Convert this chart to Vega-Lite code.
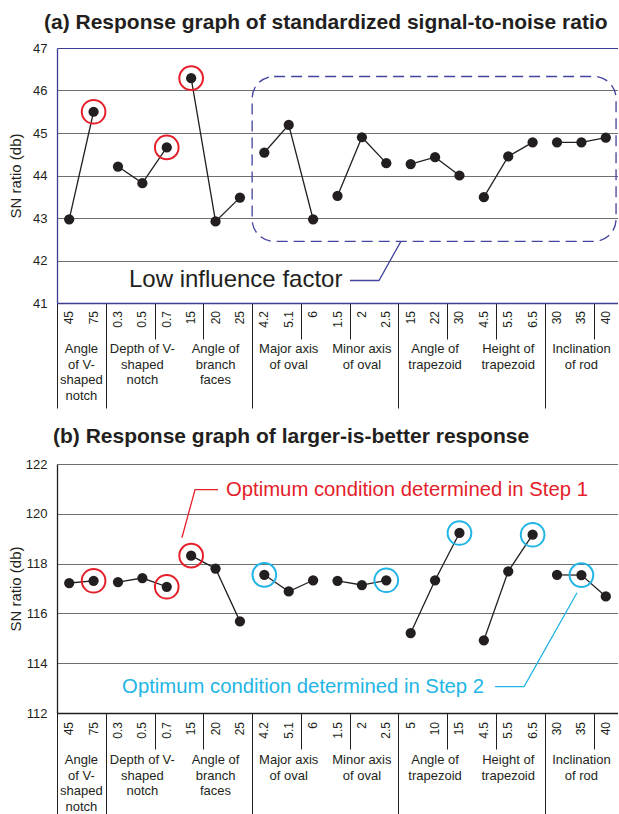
{
  "$schema": "https://vega.github.io/schema/vega-lite/v6.json",
  "padding": {"left": 8, "top": 11, "right": 0, "bottom": 0},
  "bounds": "flush",
  "spacing": 0,
  "config": {"view": {"stroke": null}, "font": "Liberation Sans"},
  "datasets": {
    "levels": [
      {"col": 1, "factor": "Angle\nof V-\nshaped\nnotch", "level_a": "45", "level_b": "45", "a": 42.97, "b": 117.22, "opt_a": false, "step_b": null},
      {"col": 2, "factor": "Angle\nof V-\nshaped\nnotch", "level_a": "75", "level_b": "75", "a": 45.50, "b": 117.31, "opt_a": true, "step_b": "Step 1"},
      {"col": 3, "factor": "Depth of V-\nshaped\nnotch", "level_a": "0.3", "level_b": "0.3", "a": 44.21, "b": 117.26, "opt_a": false, "step_b": null},
      {"col": 4, "factor": "Depth of V-\nshaped\nnotch", "level_a": "0.5", "level_b": "0.5", "a": 43.82, "b": 117.42, "opt_a": false, "step_b": null},
      {"col": 5, "factor": "Depth of V-\nshaped\nnotch", "level_a": "0.7", "level_b": "0.7", "a": 44.66, "b": 117.07, "opt_a": true, "step_b": "Step 1"},
      {"col": 6, "factor": "Angle of\nbranch\nfaces", "level_a": "15", "level_b": "15", "a": 46.29, "b": 118.32, "opt_a": true, "step_b": "Step 1"},
      {"col": 7, "factor": "Angle of\nbranch\nfaces", "level_a": "20", "level_b": "20", "a": 42.92, "b": 117.80, "opt_a": false, "step_b": null},
      {"col": 8, "factor": "Angle of\nbranch\nfaces", "level_a": "25", "level_b": "25", "a": 43.48, "b": 115.68, "opt_a": false, "step_b": null},
      {"col": 9, "factor": "Major axis\nof oval", "level_a": "4.2", "level_b": "4.2", "a": 44.54, "b": 117.55, "opt_a": false, "step_b": "Step 2"},
      {"col": 10, "factor": "Major axis\nof oval", "level_a": "5.1", "level_b": "5.1", "a": 45.19, "b": 116.88, "opt_a": false, "step_b": null},
      {"col": 11, "factor": "Major axis\nof oval", "level_a": "6", "level_b": "6", "a": 42.97, "b": 117.33, "opt_a": false, "step_b": null},
      {"col": 12, "factor": "Minor axis\nof oval", "level_a": "1.5", "level_b": "1.5", "a": 43.52, "b": 117.31, "opt_a": false, "step_b": null},
      {"col": 13, "factor": "Minor axis\nof oval", "level_a": "2", "level_b": "2", "a": 44.90, "b": 117.14, "opt_a": false, "step_b": null},
      {"col": 14, "factor": "Minor axis\nof oval", "level_a": "2.5", "level_b": "2.5", "a": 44.29, "b": 117.33, "opt_a": false, "step_b": "Step 2"},
      {"col": 15, "factor": "Angle of\ntrapezoid", "level_a": "15", "level_b": "5", "a": 44.27, "b": 115.21, "opt_a": false, "step_b": null},
      {"col": 16, "factor": "Angle of\ntrapezoid", "level_a": "22", "level_b": "10", "a": 44.43, "b": 117.33, "opt_a": false, "step_b": null},
      {"col": 17, "factor": "Angle of\ntrapezoid", "level_a": "30", "level_b": "15", "a": 44.00, "b": 119.23, "opt_a": false, "step_b": "Step 2"},
      {"col": 18, "factor": "Height of\ntrapezoid", "level_a": "4.5", "level_b": "4.5", "a": 43.49, "b": 114.92, "opt_a": false, "step_b": null},
      {"col": 19, "factor": "Height of\ntrapezoid", "level_a": "5.5", "level_b": "5.5", "a": 44.45, "b": 117.69, "opt_a": false, "step_b": null},
      {"col": 20, "factor": "Height of\ntrapezoid", "level_a": "6.5", "level_b": "6.5", "a": 44.78, "b": 119.16, "opt_a": false, "step_b": "Step 2"},
      {"col": 21, "factor": "Inclination\nof rod", "level_a": "30", "level_b": "30", "a": 44.78, "b": 117.55, "opt_a": false, "step_b": null},
      {"col": 22, "factor": "Inclination\nof rod", "level_a": "35", "level_b": "35", "a": 44.78, "b": 117.54, "opt_a": false, "step_b": "Step 2"},
      {"col": 23, "factor": "Inclination\nof rod", "level_a": "40", "level_b": "40", "a": 44.89, "b": 116.68, "opt_a": false, "step_b": null}
    ],
    "boxA": [{"x1": 8.5, "x2": 23.42, "y1": 42.45, "y2": 46.33}],
    "noteA": [{"x": 3.45, "y": 41.53, "text": "Low influence factor"}],
    "leadA": [{"x": 12.51, "y": 41.53}, {"x": 13.7, "y": 41.53}, {"x": 14.6, "y": 42.45}],
    "noteB": [
      {"x": 7.43, "y": 120.97, "text": "Optimum condition determined in Step 1", "step": "Step 1"},
      {"x": 3.17, "y": 113.06, "text": "Optimum condition determined in Step 2", "step": "Step 2"}
    ],
    "leadB": [
      {"x": 5.62, "y": 119.04, "step": "Step 1"},
      {"x": 6.16, "y": 120.97, "step": "Step 1"},
      {"x": 7.1, "y": 120.97, "step": "Step 1"},
      {"x": 18.46, "y": 113.06, "step": "Step 2"},
      {"x": 19.65, "y": 113.06, "step": "Step 2"},
      {"x": 21.82, "y": 116.83, "step": "Step 2"}
    ]
  },
  "vconcat": [
    {
      "width": 561,
      "height": 255,
      "title": {"text": "(a) Response graph of standardized signal-to-noise ratio", "anchor": "start", "frame": "group", "dx": -13, "fontSize": 21, "fontWeight": "bold", "baseline": "bottom", "offset": -11.5, "color": "#231f20"},
      "layer": [
        {
          "data": {"name": "boxA"},
          "mark": {"type": "rect", "filled": false, "stroke": "#4343a0", "strokeWidth": 1.3, "strokeDash": [11, 6], "cornerRadius": 22},
          "encoding": {
            "x": {"field": "x1", "type": "quantitative", "title": null},
            "x2": {"field": "x2"},
            "y": {"field": "y1", "type": "quantitative", "title": "SN ratio (db)"},
            "y2": {"field": "y2"}
          }
        },
        {
          "data": {"name": "leadA"},
          "mark": {"type": "line", "color": "#4343a0", "strokeWidth": 1.3},
          "encoding": {
            "x": {"field": "x", "type": "quantitative", "title": null},
            "y": {"field": "y", "type": "quantitative", "title": "SN ratio (db)"}
          }
        },
        {
          "data": {"name": "noteA"},
          "mark": {"type": "text", "align": "left", "baseline": "middle", "fontSize": 24, "color": "#231f20"},
          "encoding": {
            "x": {"field": "x", "type": "quantitative", "title": null},
            "y": {"field": "y", "type": "quantitative", "title": "SN ratio (db)"},
            "text": {"field": "text", "type": "nominal"}
          }
        },
        {
          "data": {"name": "levels"},
          "mark": {"type": "line", "color": "#231f20", "strokeWidth": 1.3},
          "encoding": {
            "x": {"field": "col", "type": "quantitative", "title": null,
              "scale": {"domain": [0.5, 23.5], "nice": false, "zero": false},
              "axis": {"values": [0.5, 1.5, 2.5, 3.5, 4.5, 5.5, 6.5, 7.5, 8.5, 9.5, 10.5, 11.5, 12.5, 13.5, 14.5, 15.5, 16.5, 17.5, 18.5, 19.5, 20.5, 21.5, 22.5, 23.5],
                "labels": false, "grid": false, "ticks": true, "tickColor": "#231f20", "tickWidth": 1,
                "tickSize": {"condition": {"test": "indexof([0.5,2.5,5.5,8.5,11.5,14.5,17.5,20.5,23.5], datum.value) >= 0", "value": 105}, "value": 36},
                "domainColor": "#3d3d92", "domainWidth": 1.3}},
            "y": {"field": "a", "type": "quantitative", "title": "SN ratio (db)",
              "scale": {"domain": [41, 47], "nice": false, "zero": false},
              "axis": {"values": [41, 42, 43, 44, 45, 46, 47], "grid": true,
                "gridColor": {"condition": {"test": "datum.value === 47", "value": "#3d3d92"}, "value": "#6d6e71"},
                "gridWidth": 1.1, "domainColor": "#3d3d92", "domainWidth": 1.3, "ticks": false, "tickSize": 0,
                "labelPadding": 10, "labelFontSize": 13, "labelColor": "#231f20", "minExtent": 27, "maxExtent": 27,
                "titlePadding": 7, "titleFontSize": 15, "titleFontWeight": "normal", "titleColor": "#231f20"}},
            "detail": {"field": "factor", "type": "nominal"}
          }
        },
        {
          "data": {"name": "levels"},
          "mark": {"type": "point", "filled": true, "color": "#231f20", "size": 105, "opacity": 1},
          "encoding": {
            "x": {"field": "col", "type": "quantitative", "title": null},
            "y": {"field": "a", "type": "quantitative", "title": "SN ratio (db)"}
          }
        },
        {
          "data": {"name": "levels"},
          "transform": [{"filter": "datum.opt_a"}],
          "mark": {"type": "point", "filled": false, "color": "#e4202a", "strokeWidth": 2, "size": 560, "opacity": 1},
          "encoding": {
            "x": {"field": "col", "type": "quantitative", "title": null},
            "y": {"field": "a", "type": "quantitative", "title": "SN ratio (db)"}
          }
        }
      ]
    },
    {
      "width": 561,
      "height": 161,
      "data": {"name": "levels"},
      "layer": [
        {
          "mark": {"type": "text", "angle": 270, "align": "right", "baseline": "middle", "fontSize": 12, "color": "#231f20"},
          "encoding": {
            "x": {"field": "col", "type": "quantitative", "scale": {"domain": [0.5, 23.5], "nice": false, "zero": false}, "axis": null},
            "y": {"value": 8},
            "text": {"field": "level_a", "type": "nominal"}
          }
        },
        {
          "mark": {"type": "text", "align": "center", "baseline": "top", "fontSize": 13, "lineBreak": "\n", "lineHeight": 15.7, "color": "#231f20"},
          "encoding": {
            "x": {"aggregate": "mean", "field": "col", "type": "quantitative", "axis": null},
            "y": {"value": 40},
            "text": {"field": "factor", "type": "nominal"}
          }
        }
      ]
    },
    {
      "width": 561,
      "height": 249,
      "title": {"text": "(b) Response graph of larger-is-better response", "anchor": "start", "frame": "group", "dx": -4, "fontSize": 21, "fontWeight": "bold", "baseline": "bottom", "offset": -10, "color": "#231f20"},
      "layer": [
        {
          "data": {"name": "levels"},
          "mark": {"type": "line", "color": "#231f20", "strokeWidth": 1.3},
          "encoding": {
            "x": {"field": "col", "type": "quantitative", "title": null,
              "scale": {"domain": [0.5, 23.5], "nice": false, "zero": false},
              "axis": {"values": [0.5, 1.5, 2.5, 3.5, 4.5, 5.5, 6.5, 7.5, 8.5, 9.5, 10.5, 11.5, 12.5, 13.5, 14.5, 15.5, 16.5, 17.5, 18.5, 19.5, 20.5, 21.5, 22.5, 23.5],
                "labels": false, "grid": false, "ticks": true, "tickColor": "#231f20", "tickWidth": 1,
                "tickSize": {"condition": {"test": "indexof([0.5,2.5,5.5,8.5,11.5,14.5,17.5,20.5,23.5], datum.value) >= 0", "value": 101}, "value": 36},
                "domainColor": "#231f20", "domainWidth": 1.3}},
            "y": {"field": "b", "type": "quantitative", "title": "SN ratio (db)",
              "scale": {"domain": [112, 122], "nice": false, "zero": false},
              "axis": {"values": [112, 114, 116, 118, 120, 122], "grid": true,
                "gridColor": "#6d6e71", "gridWidth": 1.1, "domainColor": "#231f20", "domainWidth": 1.3, "ticks": false, "tickSize": 0,
                "labelPadding": 10, "labelFontSize": 13, "labelColor": "#231f20", "minExtent": 27, "maxExtent": 27,
                "titlePadding": 7, "titleFontSize": 15, "titleFontWeight": "normal", "titleColor": "#231f20"}},
            "detail": {"field": "factor", "type": "nominal"}
          }
        },
        {
          "data": {"name": "levels"},
          "mark": {"type": "point", "filled": true, "color": "#231f20", "size": 105, "opacity": 1},
          "encoding": {
            "x": {"field": "col", "type": "quantitative", "title": null},
            "y": {"field": "b", "type": "quantitative", "title": "SN ratio (db)"}
          }
        },
        {
          "data": {"name": "levels"},
          "transform": [{"filter": "datum.step_b != null"}],
          "mark": {"type": "point", "filled": false, "strokeWidth": 2, "size": 560, "opacity": 1},
          "encoding": {
            "x": {"field": "col", "type": "quantitative", "title": null},
            "y": {"field": "b", "type": "quantitative", "title": "SN ratio (db)"},
            "color": {"field": "step_b", "type": "nominal", "scale": {"domain": ["Step 1", "Step 2"], "range": ["#e4202a", "#22b5e5"]}, "legend": null}
          }
        },
        {
          "data": {"name": "leadB"},
          "mark": {"type": "line", "strokeWidth": 1.3},
          "encoding": {
            "x": {"field": "x", "type": "quantitative", "title": null},
            "y": {"field": "y", "type": "quantitative", "title": "SN ratio (db)"},
            "color": {"field": "step", "type": "nominal", "legend": null}
          }
        },
        {
          "data": {"name": "noteB"},
          "mark": {"type": "text", "align": "left", "baseline": "middle", "fontSize": 20.3},
          "encoding": {
            "x": {"field": "x", "type": "quantitative", "title": null},
            "y": {"field": "y", "type": "quantitative", "title": "SN ratio (db)"},
            "text": {"field": "text", "type": "nominal"},
            "color": {"field": "step", "type": "nominal", "legend": null}
          }
        }
      ]
    },
    {
      "width": 561,
      "height": 101,
      "data": {"name": "levels"},
      "layer": [
        {
          "mark": {"type": "text", "angle": 270, "align": "right", "baseline": "middle", "fontSize": 12, "color": "#231f20"},
          "encoding": {
            "x": {"field": "col", "type": "quantitative", "scale": {"domain": [0.5, 23.5], "nice": false, "zero": false}, "axis": null},
            "y": {"value": 9},
            "text": {"field": "level_b", "type": "nominal"}
          }
        },
        {
          "mark": {"type": "text", "align": "center", "baseline": "top", "fontSize": 13, "lineBreak": "\n", "lineHeight": 15.7, "color": "#231f20"},
          "encoding": {
            "x": {"aggregate": "mean", "field": "col", "type": "quantitative", "axis": null},
            "y": {"value": 41},
            "text": {"field": "factor", "type": "nominal"}
          }
        }
      ]
    }
  ]
}
